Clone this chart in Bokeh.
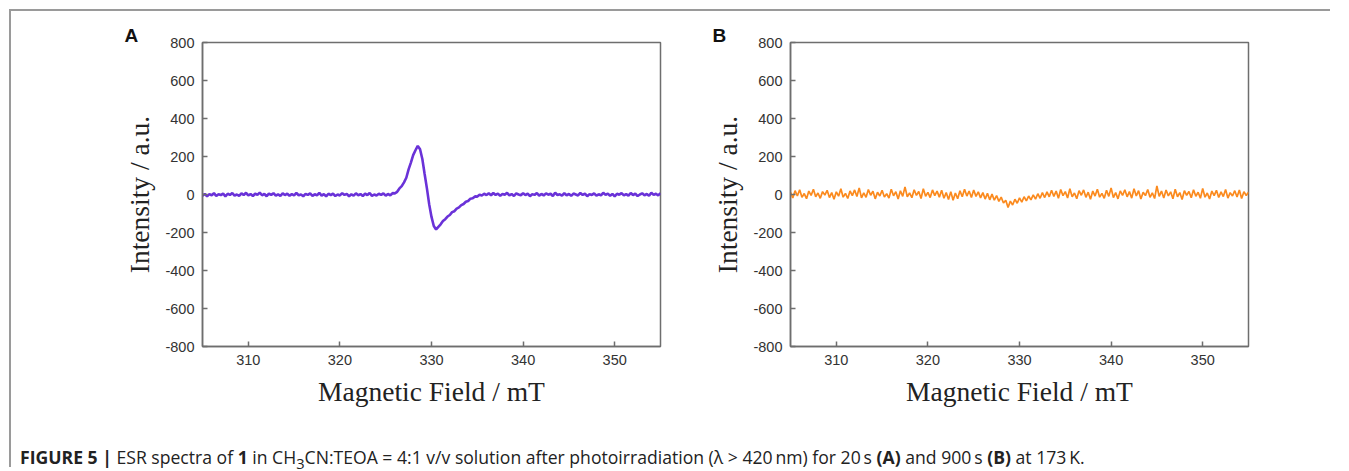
import numpy as np
from bokeh.plotting import figure
from bokeh.models import Range1d, FixedTicker, Div
from bokeh.layouts import column, row
from bokeh.embed import file_html
from bokeh.resources import INLINE

# Magnetic field sweep (mT)
field_start = 305.0
field_end = 355.0

# Panel A: 20 s photoirradiation (0.25 mT steps)
intensity_a = [
    -6, 3, -9, 2, -4, 7, -8, 1, -3, 5, -10, 4, -2, 8, -6, 0, -7, 6, -3, 9,
    -5, 2, -8, 4, -1, 10, -4, 3, -9, 5, -2, 7, -6, 1, -8, 6, -3, 4, -7, 2,
    -5, 8, -4, 0, -9, 3, -2, 6, -7, 1, -4, 9, -6, 2, -10, 4, -3, 5, -8, 0,
    -5, 7, -2, 3, -9, 1, -6, 6, -4, 2, -8, 5, -3, 8, -7, 0, -5, 4, -2, 6,
    -6, 3, -4, 7,
    6, 14, 32, 44, 64, 88, 132, 168, 207, 233, 256, 238, 187, 108, 32, -52,
    -118, -166, -184, -170, -157, -140, -130, -116, -108, -93, -88, -74, -68,
    -56, -50, -38, -34, -22, -20, -10, -11, -1, -5, 4, -3,
    6, -4, 8, -2, 5, -7, 3, -1, 9, -5, 2, -8, 6, 0, -4, 7, -3, 4, -9, 2,
    -2, 8, -6, 3, -5, 6, -1, 4, -8, 10, -3, 1, -6, 7, -4, 3, -7, 5, 0, -5,
    8, -2, 4, -9, 2, -3, 6, -6, 1, -4, 9, -2, 5, -7, 3, -10, 4, -1, 7, -5,
    2, -6, 8, -3, 5, -8, 0, 6, -4, 3, -7, 9, -2, 4, -5, 7,
]

# Panel B: 900 s photoirradiation (0.25 mT steps)
intensity_b = [
    12, -18, 20, -8, 25, -15, 5, -22, 18, -5, 28, -12, 8, -20, 15, -3, 22, -16, 10, -25,
    14, -9, 30, -14, 6, -21, 19, -6, 24, -11, 35, -18, 9, -15, 26, -4, 17, -23, 12, -8,
    22, -13, 4, -19, 28, -7, 15, -24, 20, -10, 40, -12, 8, -17, 25, -5, 16, -21, 30, -9,
    11, -16, 24, -6,
    18, -14, 22, -20, 10, -26, 15, -30, 8, -22, 20, -12, 28, -8, 18, -16, 24, -10, 14, -18,
    10, -24, 6, -28, 2, -30, -6, -36, -14, -45, -30, -68, -35, -55, -25, -46, -18, -40,
    -12, -34, -8,
    -28, -2, -24, 4, -20, 10, -16, 14, -12, 22,
    -10, 18, -20, 26, -6, 15, -18, 30, -12, 8,
    -22, 20, -4, 24, -15, 12, -25, 18, -8, 28,
    -14, 6, -20, 22, -10, 35, -16, 10, -23, 19,
    -5, 25, -12, 15, -19, 30, -8, 20, -24, 12,
    -6, 26, -15, 9, -21, 45, -10, 18, -18, 24,
    -7, 14, -22, 28, -12, 10, -26, 20, -4, 16,
    -17, 25, -9, 12, -20, 32, -14, 8, -24, 18,
    -6, 22, -16, 14, -11, 26, -19, 10, -8, 20,
    -13, 24, -21, 15, -5, 12,
]

x_ticks = [310, 320, 330, 340, 350]
y_ticks = [-800, -600, -400, -200, 0, 200, 400, 600, 800]
panel_letters = ["A", "B"]
line_colors = ["#6a32d8", "#fb8a1e"]

x_label = "Magnetic Field / mT"
y_label = "Intensity / a.u."

field = np.linspace(field_start, field_end, len(intensity_a))

FRAME_W = 458
FRAME_H = 304
TOP = 31
BOTTOM = 63
AXIS_COLOR = "#6e6e6e"


def make_panel(letter, values, color, lw, left, right):
    p = figure(
        width=left + FRAME_W + right,
        height=TOP + FRAME_H + BOTTOM,
        x_range=Range1d(305, 355),
        y_range=Range1d(-800, 800),
        output_backend="svg",
        toolbar_location=None,
        min_border_left=left,
        min_border_right=right,
        min_border_top=TOP,
        min_border_bottom=BOTTOM,
        title=letter,
    )
    p.line(field, values, color=color, line_width=lw)

    p.title.text_font = "Liberation Sans"
    p.title.text_font_style = "bold"
    p.title.text_font_size = "19px"
    p.title.text_color = "#111111"
    p.title.align = "left"
    p.title.offset = -78
    p.title.standoff = -7

    p.xaxis.ticker = FixedTicker(ticks=x_ticks)
    p.yaxis.ticker = FixedTicker(ticks=y_ticks)
    p.yaxis.major_label_overrides = {t: str(t) for t in y_ticks}
    p.xaxis.major_label_overrides = {t: str(t) for t in x_ticks}
    p.xaxis.axis_label = x_label
    p.yaxis.axis_label = y_label

    for ax in (p.xaxis[0], p.yaxis[0]):
        ax.major_tick_in = 5
        ax.major_tick_out = 0
        ax.minor_tick_in = 0
        ax.minor_tick_out = 0
        ax.axis_line_color = AXIS_COLOR
        ax.axis_line_width = 1.5
        ax.major_tick_line_color = AXIS_COLOR
        ax.major_tick_line_width = 1.5
        ax.major_label_text_font = "Liberation Sans"
        ax.major_label_text_font_size = "14.5px"
        ax.major_label_text_color = "#333333"
        ax.major_label_standoff = 8
        ax.axis_label_text_font = "Liberation Serif"
        ax.axis_label_text_font_style = "normal"
        ax.axis_label_text_font_size = "27.5px"
        ax.axis_label_text_color = "#222222"
    p.xaxis[0].axis_label_standoff = 8
    p.yaxis[0].axis_label_standoff = 7

    p.xgrid.visible = False
    p.ygrid.visible = False
    p.outline_line_color = AXIS_COLOR
    p.outline_line_width = 1.5
    p.outline_line_alpha = 1.0
    p.background_fill_color = "white"
    p.border_fill_color = "white"
    return p


pa = make_panel(panel_letters[0], intensity_a, line_colors[0], 2.6, 191, 40)
pb = make_panel(panel_letters[1], intensity_b, line_colors[1], 1.7, 90, 20)

caption_html = (
    "<b>FIGURE 5 |</b> ESR spectra of <b>1</b> in CH<sub>3</sub>CN:TEOA = 4:1 v/v "
    "solution after photoirradiation (λ &gt; 420&#8201;nm) for 20&#8201;s <b>(A)</b> "
    "and 900&#8201;s <b>(B)</b> at 173&#8201;K."
)
caption = Div(
    text=caption_html,
    width=1310,
    height=19,
    margin=(39, 0, 0, 9),
    styles={
        "font-family": "'Open Sans', Arial, sans-serif",
        "font-size": "17.6px",
        "color": "#222222",
        "line-height": "19px",
        "white-space": "nowrap",
    },
)

layout = column(
    row(pa, pb),
    caption,
    margin=(9, 0, 0, 9),
    styles={
        "border-left": "2px solid #9a9a9a",
        "border-top": "2px solid #9a9a9a",
    },
)

open("out.html", "w").write(file_html(layout, INLINE))
